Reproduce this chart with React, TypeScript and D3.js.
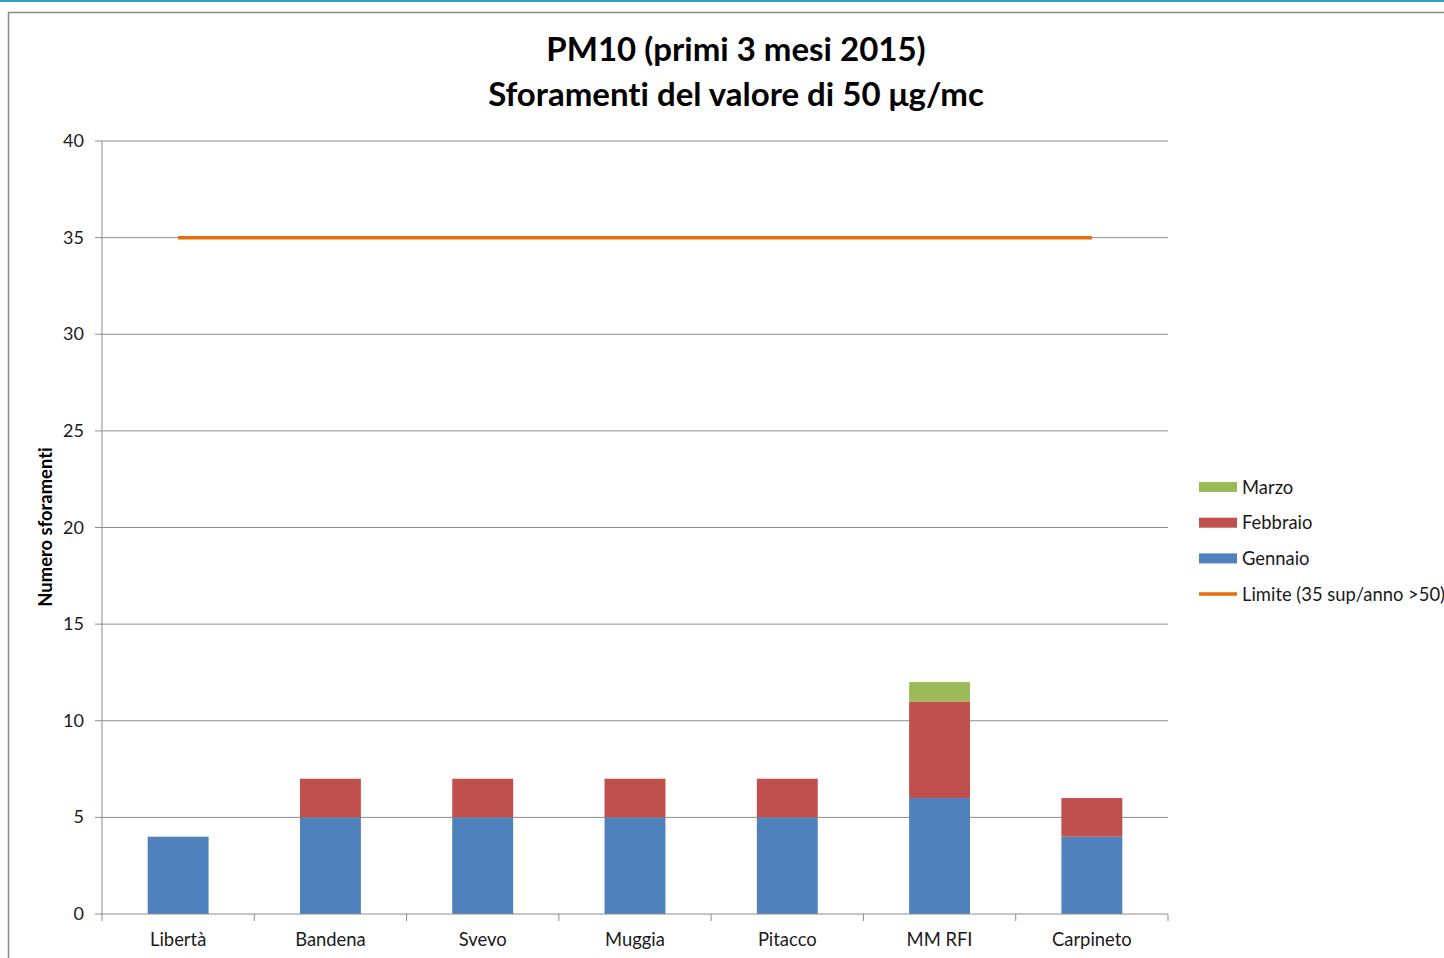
import React from "react";
import * as d3 from "d3";

const categories = ["Libertà", "Bandena", "Svevo", "Muggia", "Pitacco", "MM RFI", "Carpineto"];
const gennaio = [4, 5, 5, 5, 5, 6, 4];
const febbraio = [0, 2, 2, 2, 2, 5, 2];
const marzo = [0, 0, 0, 0, 0, 1, 0];
const limite = [35, 35, 35, 35, 35, 35, 35];
const yTicks = [0, 5, 10, 15, 20, 25, 30, 35, 40];
const seriesNames = ["Gennaio", "Febbraio", "Marzo"];
const seriesColors = ["#4F81BD", "#C0504D", "#9BBB59"];
const limitColor = "#E46C0A";
const limitName = "Limite (35 sup/anno >50)";

const FONT = "Lato, 'Open Sans', sans-serif";

export default function App() {
  const W = 1444, H = 958;
  const left = 102, right = 1168, top = 141, bottom = 914;
  const x = d3.scaleBand<string>().domain(categories).range([left, right]).paddingInner(0.6).paddingOuter(0.3);
  const xb = d3.scaleBand<string>().domain(categories).range([left, right]);
  const y = d3.scaleLinear().domain([0, 40]).range([bottom, top]);

  const table = categories.map((c, i) => ({ cat: c, Gennaio: gennaio[i], Febbraio: febbraio[i], Marzo: marzo[i] }));
  const stack = d3.stack<any>().keys(seriesNames)(table);

  const line = d3.line<number>()
    .x((_, i) => (xb(categories[i]) as number) + xb.bandwidth() / 2)
    .y((d) => y(d));

  const legendItems = [
    { name: "Marzo", color: seriesColors[2], type: "rect" },
    { name: "Febbraio", color: seriesColors[1], type: "rect" },
    { name: "Gennaio", color: seriesColors[0], type: "rect" },
    { name: limitName, color: limitColor, type: "line" },
  ];

  return (
    <svg width={W} height={H} style={{ position: "absolute", left: 0, top: 0, background: "#fff", fontVariantLigatures: "none" }} fontFamily={FONT}>
      <rect x={0} y={0} width={W} height={H} fill="#fff" />
      <line x1={0} x2={W} y1={1} y2={1} stroke="#2AA0C0" strokeWidth={2} />
      <rect x={8.5} y={12.5} width={W + 10} height={H + 10} fill="none" stroke="#8a8a8a" strokeWidth={1.5} />

      <text x={736} y={61} textAnchor="middle" fontSize={33} fontWeight="bold" fill="#000">PM10 (primi 3 mesi 2015)</text>
      <text x={736} y={106} textAnchor="middle" fontSize={33} fontWeight="bold" fill="#000">Sforamenti del valore di 50 μg/mc</text>

      {yTicks.map((t) => (
        <g key={t}>
          {t > 0 && <line x1={left} x2={right} y1={y(t)} y2={y(t)} stroke="#8c8c8c" strokeWidth={1} />}
          <line x1={left - 7} x2={left} y1={y(t)} y2={y(t)} stroke="#8c8c8c" strokeWidth={1} />
          <text x={84} y={y(t) + 6} textAnchor="end" fontSize={18} fill="#1a1a1a">{t}</text>
        </g>
      ))}
      <line x1={left} x2={left} y1={top} y2={bottom} stroke="#8c8c8c" strokeWidth={1} />

      {stack.map((s, si) => (
        <g key={si}>
          {s.map((d, i) => (d[1] - d[0] > 0 ? (
            <rect key={i} x={x(categories[i])} width={x.bandwidth()} y={y(d[1])} height={y(d[0]) - y(d[1])} fill={seriesColors[si]} />
          ) : null))}
        </g>
      ))}

      <line x1={left} x2={right} y1={bottom} y2={bottom} stroke="#8c8c8c" strokeWidth={1} />
      {categories.concat([""]).map((c, i) => {
        const xx = left + i * xb.step();
        return <line key={i} x1={xx} x2={xx} y1={bottom} y2={bottom + 7} stroke="#8c8c8c" strokeWidth={1} />;
      })}
      {categories.map((c) => (
        <text key={c} x={(xb(c) as number) + xb.bandwidth() / 2} y={946} textAnchor="middle" fontSize={18.4} fill="#1a1a1a">{c}</text>
      ))}

      <path d={line(limite) || ""} fill="none" stroke={limitColor} strokeWidth={3.5} />

      <text transform={`translate(52,527) rotate(-90)`} textAnchor="middle" fontSize={18.4} fontWeight="bold" fill="#000">Numero sforamenti</text>

      {legendItems.map((it, i) => {
        const cy = 487 + i * 35.7;
        return (
          <g key={it.name}>
            {it.type === "rect"
              ? <rect x={1199} y={cy - 5} width={38} height={10} fill={it.color} />
              : <line x1={1199} x2={1237} y1={cy} y2={cy} stroke={it.color} strokeWidth={3.5} />}
            <text x={1242} y={cy + 6.5} fontSize={18.4} fill="#1a1a1a">{it.name}</text>
          </g>
        );
      })}
    </svg>
  );
}
